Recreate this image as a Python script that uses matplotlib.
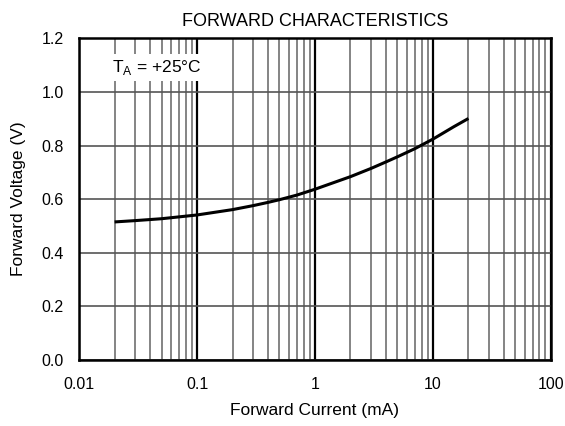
import matplotlib
matplotlib.use("Agg")
import matplotlib.pyplot as plt
from matplotlib.ticker import LogLocator, NullFormatter

plt.rcParams['font.family'] = ['Liberation Sans', 'DejaVu Sans']

# values
current = [0.02, 0.03, 0.05, 0.1, 0.2, 0.3, 0.4, 0.5, 0.7, 1, 2, 3, 4, 5, 7, 10, 15, 20]
voltage = [0.515, 0.52, 0.527, 0.541, 0.561, 0.576, 0.588, 0.598, 0.615, 0.637, 0.684,
           0.715, 0.739, 0.758, 0.788, 0.824, 0.87, 0.901]

xticks = [0.01, 0.1, 1, 10, 100]
xtick_labels = ["0.01", "0.1", "1", "10", "100"]
yticks = [0.0, 0.2, 0.4, 0.6, 0.8, 1.0, 1.2]

fig = plt.figure(figsize=(5.65, 4.26), dpi=100)
ax = fig.add_axes([0.14, 0.155, 0.835, 0.755])

ax.set_xscale("log")
ax.set_xlim(0.01, 100)
ax.set_ylim(0, 1.2)

ax.set_xticks(xticks)
ax.set_xticklabels(xtick_labels)
ax.xaxis.set_minor_locator(LogLocator(base=10, subs=range(2, 10)))
ax.xaxis.set_minor_formatter(NullFormatter())
ax.set_yticks(yticks)
ax.set_yticklabels(["%.1f" % v for v in yticks])

ax.grid(which="major", axis="x", color="black", linewidth=1.6)
ax.grid(which="minor", axis="x", color="#707070", linewidth=1.2)
ax.grid(which="major", axis="y", color="#555555", linewidth=1.2)
ax.tick_params(which="both", length=0, labelsize=11.5)
ax.tick_params(axis="x", pad=12)
ax.tick_params(axis="y", pad=11)

for s in ax.spines.values():
    s.set_linewidth(1.8)
    s.set_zorder(5)

ax.plot(current, voltage, color="black", linewidth=2.2, zorder=4,
        solid_joinstyle="round", solid_capstyle="butt")

ax.text(0.019, 1.09, r"T$_\mathregular{A}$ = +25°C", fontsize=12.5, ha="left", va="center",
        bbox=dict(facecolor="white", edgecolor="none", pad=3), zorder=4)

ax.set_title("FORWARD CHARACTERISTICS", fontsize=13, pad=9)
ax.set_xlabel("Forward Current (mA)", fontsize=12.5, labelpad=8)
ax.set_ylabel("Forward Voltage (V)", fontsize=12.5, labelpad=11)

fig.savefig("out.png", dpi=100)
